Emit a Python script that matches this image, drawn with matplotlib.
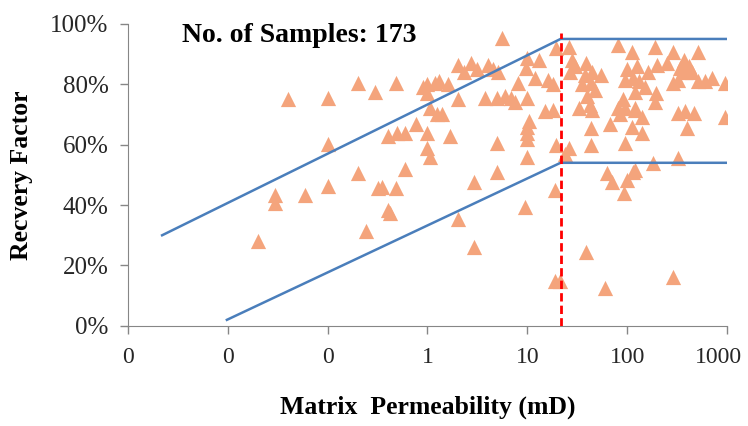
import numpy as np
import matplotlib
matplotlib.use("Agg")
import matplotlib.pyplot as plt
import matplotlib.transforms as mtransforms
from matplotlib.ticker import FuncFormatter

plt.rcParams['font.family'] = ['Liberation Serif', 'DejaVu Serif']

# permeability (mD) and recovery factor (%)
perm = [0.02, 0.03, 0.03, 0.06, 0.1, 0.1, 0.1, 0.04, 0.2, 0.3,
        0.2, 0.24, 0.32, 0.35, 0.48, 1.0, 1.2, 1.0, 1.05, 1.25,
        0.76, 0.40, 0.50, 0.60, 1.0, 1.0, 1.05, 0.59, 0.48, 0.42,
        0.40, 2.0, 2.7, 1.6, 2.0, 1.4, 1.7, 2.9, 5.6, 3.1,
        4.0, 5.1, 10, 13, 9.6, 8.1, 16, 18, 19.5, 3.8,
        5.0, 6.9, 10, 15, 18, 10.5, 10, 10, 10, 5.0,
        10, 5.0, 19.5, 19, 26, 80, 28, 27, 39, 44,
        38, 43, 40, 42, 44, 43, 43, 112, 100, 95,
        115, 80, 95, 120, 68, 112, 95, 26, 24, 63,
        70, 100, 115, 93, 190, 290, 515, 200, 370, 340,
        380, 320, 290, 515, 600, 950, 125, 130, 120, 195,
        190, 320, 380, 470, 950, 400, 120, 140, 140, 180,
        320, 120, 2.0, 2.95, 9.5, 19, 39, 21, 60, 290,
        1.3, 0.9, 2.3, 4.5, 12, 30, 35, 48, 55, 150,
        160, 250, 420, 450, 700, 90, 85, 33, 6.0, 7.5]
rf = [28, 43.4, 40.7, 43.4, 46.4, 60.3, 75.5, 75.2, 80.5, 77.5,
      50.7, 31.5, 45.7, 46, 80.5, 80, 80.5, 77, 72, 70,
      67, 63, 64, 64, 64, 59, 56, 52, 45.7, 37.5,
      38.5, 86.4, 87, 80, 75, 70, 63, 47.7, 95.4, 85,
      86.4, 84, 88.7, 88, 85.4, 80.5, 81.5, 80, 92, 75.5,
      75.5, 75.5, 75.5, 71, 71.5, 68, 66, 64, 62, 60.5,
      56, 51, 60, 45, 92.4, 93, 88, 84, 87, 84,
      83, 80.5, 76, 73, 71.5, 65.5, 60, 90.7, 85, 81.5,
      82, 72, 72, 72, 67, 66, 60.5, 59, 57, 50.7,
      47.7, 48.3, 51, 44, 92.4, 90.7, 90.7, 86.4, 88, 85.4,
      84, 81.5, 80.5, 81, 81, 80.5, 86, 81, 77.5, 77,
      74, 70.5, 71, 70.5, 69, 65.5, 71.5, 69, 64, 54,
      55.6, 51.6, 35.4, 26, 39.4, 15, 24.5, 15, 12.6, 16.2,
      81, 79, 84, 85, 82, 86, 80, 78, 83, 79,
      84, 87, 86, 84, 82, 75, 70, 72, 76, 74]

# envelope lines and cut-off
upper_x = [0.0022, 21.5, 1000]
upper_y = [30, 95, 95]
lower_x = [0.0098, 21.5, 1000]
lower_y = [2, 54, 54]
cutoff = 21.5

xticks = [0.001, 0.01, 0.1, 1, 10, 100, 1000]
yticks = [0, 20, 40, 60, 80, 100]

fig = plt.figure(figsize=(7.48, 4.26), dpi=100)
ax = fig.add_axes([0.171, 0.235, 0.801, 0.709])

ax.scatter(perm, rf, marker='^', s=120, color='#F4A47C', linewidths=0, zorder=2)
ax.plot(upper_x, upper_y, color='#4A7EBB', lw=1.8, zorder=3)
ax.plot(lower_x, lower_y, color='#4A7EBB', lw=1.8, zorder=3)
ax.plot([cutoff, cutoff], [0, 97], color='#FF0000', lw=2, ls=(0, (3, 1.5)), zorder=4)

ax.set_xscale('log')
ax.set_xlim(0.001, 1000)
ax.set_ylim(0, 100)
ax.set_xticks(xticks)
ax.xaxis.set_major_formatter(FuncFormatter(lambda v, p: f'{v:.0f}'))
ax.minorticks_off()
ax.set_yticks(yticks)
ax.set_yticklabels([f'{t}%' for t in yticks])

for s in ['top', 'right']:
    ax.spines[s].set_visible(False)
for s in ['left', 'bottom']:
    ax.spines[s].set_color('#868686')
ax.tick_params(axis='both', colors='#868686', labelcolor='#262626',
               length=6, width=1)
ax.tick_params(axis='x', pad=9, labelsize=17)
ax.tick_params(axis='y', pad=8, labelsize=18)

# nudge the last x label so it stays inside the figure, as in the original
last = ax.get_xticklabels()[-1]
last.set_transform(last.get_transform() +
                   mtransforms.ScaledTranslation(-6 / 72, 0, fig.dpi_scale_trans))

ax.set_xlabel('Matrix  Permeability (mD)', fontsize=18.5, fontweight='bold', labelpad=20)
ax.set_ylabel('Recvery Factor', fontsize=18.5, fontweight='bold', labelpad=12)
ax.text(0.09, 0.96, 'No. of Samples: 173', transform=ax.transAxes,
        fontsize=20, fontweight='bold', va='center')

fig.savefig('out.png', dpi=100)
